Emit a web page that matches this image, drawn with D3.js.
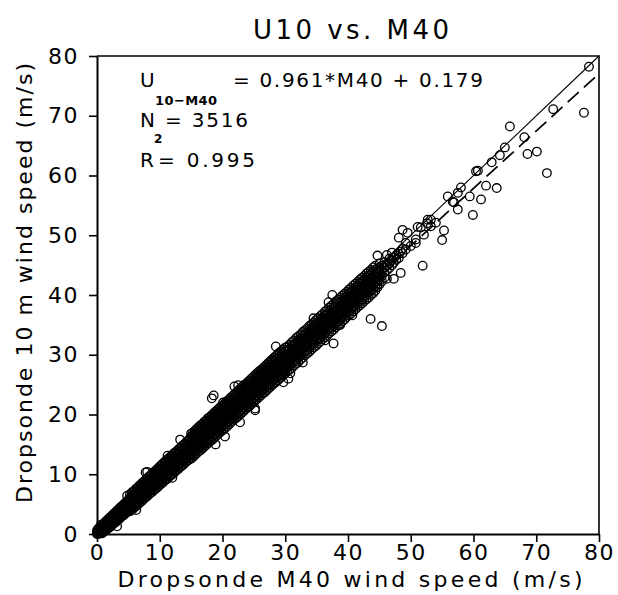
<!DOCTYPE html>
<html>
<head>
<meta charset="utf-8">
<script src="https://cdn.jsdelivr.net/npm/d3@7"></script>
<style>
  body { margin: 0; background: #fff; }
  svg text { font-family: "DejaVu Sans", sans-serif; fill: #000; }
</style>
</head>
<body>
<svg id="chart" width="618" height="595"></svg>
<script>
// rows are [M40, U10, U10, ...], column by column
const bandLow = [
  [0.0,0.0,0.3,0.6],[0.2,0.0,0.4,0.9],[0.4,0.1,0.5,1.0],[0.6,0.2,0.6,1.1,1.5],[0.8,0.1,0.5,0.9,1.4],
  [1.0,0.3,0.8,1.2,1.7],[1.2,0.5,0.9,1.4,1.9],[1.4,0.6,1.1,1.6,2.1],[1.6,0.8,1.3,1.8,2.3],
  [1.8,1.0,1.5,2.0,2.5],[2.0,1.1,1.7,2.2,2.7],[2.2,1.3,1.8,2.4,2.9],[2.4,1.5,2.0,2.5,3.1],
  [2.6,1.7,2.2,2.7,3.3],[2.8,1.9,2.4,2.9,3.5],[3.0,2.0,2.6,3.1,3.7],[3.2,1.3,2.2,2.8,3.3,3.9],
  [3.4,2.4,3.0,3.5,4.1],[3.6,2.6,3.2,3.7,4.3],[3.8,2.8,3.4,3.9,4.5],[4.0,3.0,3.5,4.1,4.7],
  [4.2,3.1,3.7,4.3,4.9],[4.4,3.3,3.9,4.5,5.1],[4.6,3.5,4.1,4.7,5.3],[4.8,3.7,4.3,4.9,5.5,6.4],
  [5.0,3.9,4.5,5.1,5.7]
];
const bandMid = [
  [5.25,3.8,4.3,4.9,5.4,6.0,6.6],[5.5,4.0,4.6,5.1,5.7,6.3,6.9],[5.75,4.2,4.8,5.4,5.9,6.5,7.1],
  [6.0,4.5,5.0,5.6,6.2,6.7,7.3],[6.25,4.0,4.7,5.3,5.9,6.4,7.0,7.6],[6.5,4.9,5.5,6.1,6.7,7.2,7.8],
  [6.75,5.2,5.7,6.3,6.9,7.5,8.1],[7.0,5.4,6.0,6.6,7.1,7.7,8.3],[7.25,5.6,6.2,6.8,7.4,8.0,8.6],
  [7.5,5.9,6.4,7.0,7.6,8.2,8.8],[7.75,6.1,6.7,7.3,7.9,8.5,9.1,10.3],[8.0,6.3,6.9,7.5,8.1,8.7,9.3,10.4],
  [8.25,6.6,7.2,7.8,8.4,9.0,9.6],[8.5,6.8,7.4,8.0,8.6,9.2,9.8],[8.75,7.0,7.6,8.2,8.8,9.4,10.1],
  [9.0,7.3,7.9,8.5,9.1,9.7,10.3],[9.25,7.5,8.1,8.7,9.3,9.9,10.5],[9.5,7.7,8.3,8.9,9.6,10.2,10.8],
  [9.75,7.9,8.6,9.2,9.8,10.4,11.0],[10.0,8.2,8.8,9.4,10.0,10.7,11.3],[10.25,8.4,9.0,9.6,10.3,10.9,11.5],
  [10.5,8.6,9.3,9.9,10.5,11.1,11.8],[10.75,8.9,9.5,10.1,10.8,11.4,12.0],[11.0,9.1,9.7,10.4,11.0,11.6,12.3],
  [11.25,9.3,10.0,10.6,11.2,11.9,12.5,13.1],[11.5,9.6,10.2,10.8,11.5,12.1,12.7],
  [11.75,9.8,10.4,11.1,11.7,12.3,13.0],[12.0,9.4,10.0,10.7,11.3,11.9,12.6,13.2],
  [12.25,10.2,10.9,11.5,12.2,12.8,13.5],[12.5,10.5,11.1,11.8,12.4,13.0,13.7],
  [12.75,10.7,11.4,12.0,12.6,13.3,13.9],[13.0,10.9,11.6,12.2,12.9,13.5,14.2],
  [13.25,11.2,11.8,12.5,13.1,13.8,14.4,15.8],[13.5,11.4,12.1,12.7,13.4,14.0,14.7],
  [13.75,11.6,12.3,12.9,13.6,14.2,14.9],[14.0,11.9,12.5,13.2,13.8,14.5,15.1],
  [14.25,12.1,12.7,13.4,14.1,14.7,15.4],[14.5,12.3,13.0,13.6,14.3,14.9,15.6],
  [14.75,12.6,13.2,13.9,14.5,15.2,15.9]
];
const bandUpper = [
  [15.0,12.6,13.2,13.8,14.4,15.0,15.6,16.3,16.8],[15.3,12.9,13.5,14.1,14.7,15.3,15.9,16.5,17.0],
  [15.6,13.2,13.8,14.4,15.0,15.6,16.2,16.8,17.3],[15.9,13.5,14.1,14.7,15.2,15.9,16.5,17.0,17.6],
  [16.2,13.8,14.3,14.9,15.6,16.2,16.8,17.4,17.9],[16.5,14.0,14.6,15.2,15.8,16.5,17.1,17.6,18.2],
  [16.8,14.3,14.9,15.5,16.1,16.8,17.4,17.9,18.4],[17.1,14.6,15.2,15.8,16.4,17.0,17.6,18.2,18.8],
  [17.4,14.9,15.5,16.1,16.7,17.3,17.9,18.5,19.0],[17.7,15.2,15.8,16.4,17.0,17.6,18.2,18.8,19.4],
  [18.0,15.5,16.0,16.7,17.3,17.9,18.5,19.1,19.6],[18.3,15.7,16.3,17.0,17.6,18.2,18.8,19.4,19.9,22.7],
  [18.6,16.0,16.6,17.2,17.9,18.5,19.1,19.7,20.2,23.2],[18.9,15.0,16.3,16.9,17.5,18.1,18.7,19.3,20.0,20.5],
  [19.2,16.6,17.2,17.8,18.4,19.0,19.6,20.2,20.8],[19.5,16.9,17.5,18.1,18.7,19.3,19.9,20.5,21.1],
  [19.8,17.2,17.8,18.4,19.0,19.6,20.2,20.8,21.4],[20.1,17.4,18.1,18.7,19.3,19.9,20.5,21.1,21.6,22.0],
  [20.4,16.3,17.7,18.4,19.0,19.6,20.2,20.8,21.4,21.9],[20.7,18.0,18.6,19.3,19.9,20.5,21.1,21.7,22.2],
  [21.0,18.3,18.9,19.5,20.2,20.8,21.4,22.0,22.5],[21.3,18.6,19.2,19.8,20.4,21.1,21.7,22.3,22.8],
  [21.6,18.9,19.5,20.1,20.7,21.3,22.0,22.6,23.1],[21.9,19.2,19.8,20.4,21.0,21.6,22.2,22.9,23.4,24.7],
  [22.2,19.4,20.1,20.7,21.3,21.9,22.5,23.1,23.7],[22.5,19.7,20.3,21.0,21.6,22.2,22.8,23.4,24.0,24.9],
  [22.8,18.7,20.0,20.6,21.3,21.9,22.5,23.1,23.7,24.3],[23.1,20.3,20.9,21.5,22.2,22.8,23.4,24.0,24.6],
  [23.4,20.6,21.2,21.8,22.4,23.1,23.7,24.3,24.9],[23.7,20.9,21.5,22.1,22.7,23.4,24.0,24.6,25.1],
  [24.0,21.2,21.8,22.4,23.0,23.6,24.3,24.9,25.4],[24.3,21.4,22.1,22.7,23.3,23.9,24.6,25.2,25.7],
  [24.6,21.7,22.4,23.0,23.6,24.2,24.8,25.4,26.0],[24.9,22.0,22.7,23.3,23.9,24.5,25.1,25.7,26.3],
  [25.2,20.7,21.0,22.3,22.9,23.6,24.2,24.8,25.4,26.0,26.6],[25.5,22.6,23.2,23.8,24.5,25.1,25.7,26.3,26.9],
  [25.8,22.9,23.5,24.1,24.7,25.4,26.0,26.6,27.2],[26.1,23.2,23.8,24.4,25.0,25.6,26.3,26.9,27.4],
  [26.4,23.5,24.1,24.7,25.3,25.9,26.5,27.2,27.7],[26.7,23.7,24.4,25.0,25.6,26.2,26.8,27.4,28.0],
  [27.0,24.0,24.7,25.3,25.9,26.5,27.1,27.7,28.3],[27.3,24.3,24.9,25.6,26.2,26.8,27.4,28.0,28.6],
  [27.6,24.6,25.2,25.8,26.5,27.1,27.7,28.3,28.9],[27.9,24.9,25.5,26.1,26.7,27.4,28.0,28.6,29.2],
  [28.2,25.2,25.8,26.4,27.0,27.6,28.3,28.9,29.5],[28.5,25.4,26.1,26.7,27.3,27.9,28.5,29.2,29.8,31.4],
  [28.8,25.7,26.4,27.0,27.6,28.2,28.8,29.4,30.1],[29.1,26.0,26.6,27.3,27.9,28.5,29.1,29.7,30.4],
  [29.4,26.3,26.9,27.5,28.2,28.8,29.4,30.0,30.6],[29.7,25.4,26.6,27.2,27.8,28.4,29.1,29.7,30.3,30.9],
  [30.0,26.9,27.5,28.1,28.7,29.3,29.9,30.6,31.2]
];
const bandTop = [
  [30.35,27.2,27.9,28.6,29.3,30.0,30.7,31.4],[30.5,26.0],[30.8,26.9],
  [30.7,27.5,28.2,28.9,29.6,30.3,31.0,31.7],[31.05,27.8,28.6,29.3,30.0,30.7,31.4,32.1],
  [31.4,28.2,28.9,29.6,30.3,31.0,31.7,32.4],[31.75,28.5,29.2,29.9,30.6,31.3,32.0,32.8],
  [32.1,28.8,29.6,30.3,31.0,31.7,32.4,33.1],[32.45,29.2,29.9,30.6,31.3,32.0,32.7,33.4],
  [32.8,28.7,29.5,30.2,30.9,31.6,32.4,33.1,33.8],[33.15,29.9,30.6,31.3,32.0,32.7,33.4,34.1],
  [33.5,30.2,30.8,31.6,32.3,33.0,33.7,34.4],[33.85,30.5,31.3,32.0,32.7,33.4,34.1,34.8],
  [34.2,30.9,31.6,32.3,33.0,33.7,34.4,35.1],[34.5,36.1],[34.55,31.2,31.9,32.6,33.3,34.0,34.7,35.4],
  [34.9,31.5,32.3,33.0,33.7,34.4,35.1,35.8],[35.25,31.9,32.6,33.3,34.0,34.7,35.4,36.1],
  [35.6,32.2,32.9,33.7,34.4,35.1,35.8,36.5],[35.95,32.6,33.3,34.0,34.7,35.4,36.1,36.8],
  [36.3,32.4,32.9,33.6,34.3,35.0,35.8,36.5,37.2],[36.65,33.2,34.0,34.7,35.4,36.1,36.8,37.5],
  [36.9,38.8],[37.0,33.6,34.3,35.0,35.7,36.4,37.1,37.9],[37.35,33.9,34.6,35.3,36.0,36.8,37.5,38.2],
  [37.5,40.0],[37.7,31.9,34.2,35.0,35.7,36.4,37.1,37.8,38.5],[38.05,34.6,35.3,36.0,36.7,37.4,38.1,38.9],
  [38.4,34.9,35.6,36.3,37.0,37.8,38.5,39.2],[38.75,35.0,35.2,36.0,36.7,37.4,38.1,38.8,39.5],
  [39.1,35.6,36.3,37.0,37.7,38.4,39.1,39.9],[39.45,35.9,36.7,37.4,38.1,38.8,39.5,40.2],
  [39.8,36.3,37.0,37.7,38.4,39.1,39.8,40.5],[40.15,36.6,37.3,38.0,38.7,39.5,40.2,40.9],
  [40.5,36.9,37.7,38.4,39.1,39.8,40.5,41.2],[40.7,36.6],[40.85,37.3,38.0,38.7,39.4,40.1,40.8,41.6],
  [41.2,37.6,38.3,39.0,39.8,40.5,41.2,41.9],[41.55,38.0,38.7,39.4,40.1,40.8,41.5,42.2],
  [41.9,38.3,39.0,39.7,40.4,41.1,41.9,42.6],[42.25,38.6,39.3,40.1,40.8,41.5,42.2,42.9],
  [42.6,39.0,39.7,40.4,41.1,41.8,42.5,43.2],[42.95,39.3,40.0,40.7,41.5,42.2,42.9,43.6],
  [43.3,39.6,40.4,41.1,41.8,42.5,43.2,43.9],[43.6,36.0],[43.65,40.0,40.7,41.4,42.1,42.8,43.5,44.2],
  [44.0,40.3,41.0,41.7,42.5,43.2,43.9,44.6],[44.35,40.7,41.4,42.1,42.8,43.5,44.2,44.9],
  [44.7,41.3,41.7,42.4,43.1,43.8,44.5,46.6],[45.05,41.8,42.5,43.2,43.9,44.6,45.3]
];
const sparse = [
  [45.4,34.8,42.3,43.2,44.0,44.9],[45.8,42.9,43.8,44.6,45.5],[46.2,42.7,44.1,44.9,46.7],
  [46.6,44.5,45.3,46.1],[47.0,45.0,45.8,47.1],[47.3,42.7,45.4,46.2],[47.7,45.9,46.6],
  [48.1,46.2,46.9,49.6],[48.4,43.7,47.3],[48.7,47.0,47.8,50.9],[49.2,47.6,48.7],
  [49.5,50.4],[50.0,48.2],[50.8,48.7,49.3],[51.1,51.4],[51.6,51.3],[51.9,44.9],[52.1,50.1],
  [52.6,52.0],[52.7,52.6],[53.2,51.5,52.6],[54.0,52.1],[55.0,49.2],[55.3,50.8],[55.9,56.5],
  [56.7,55.6],[56.9,55.5],[57.5,54.3,57.1],[58.0,58.0],[59.4,56.5],[59.9,53.4],[60.4,60.7],
  [60.7,60.8],[61.2,56.0],[62.0,58.3],[62.9,62.2],[63.7,57.9],[64.2,63.4],[65.0,64.7],
  [65.8,68.2],[68.1,66.4],[68.6,63.6],[70.1,64.0],[71.7,60.4],[72.7,71.1],[77.6,70.5],[78.4,78.2]
];

const ticks  = [0, 10, 20, 30, 40, 50, 60, 70, 80];
const fitSlope = 0.961, fitIntercept = 0.179;
const nObs = 3516, r2 = 0.995;

// flatten the columns into [x, y] points
const points = [];
[bandLow, bandMid, bandUpper, bandTop, sparse].forEach(rows =>
  rows.forEach(r => r.slice(1).forEach(v => points.push([r[0], v]))));

const svg = d3.select('#chart');
const x = d3.scaleLinear().domain([0, 80]).range([97, 599]);
const y = d3.scaleLinear().domain([0, 80]).range([534, 56]);

// points
svg.append('g').selectAll('circle')
  .data(points)
  .enter().append('circle')
  .attr('cx', d => x(d[0]))
  .attr('cy', d => y(d[1]))
  .attr('r', 4.3)
  .attr('fill', 'none')
  .attr('stroke', '#000')
  .attr('stroke-width', 1.3);

// 1:1 line and regression line
svg.append('line')
  .attr('x1', x(0)).attr('y1', y(0)).attr('x2', x(80)).attr('y2', y(80))
  .attr('stroke', '#000').attr('stroke-width', 1.1);
svg.append('line')
  .attr('x1', x(0)).attr('y1', y(fitIntercept))
  .attr('x2', x(80)).attr('y2', y(fitSlope * 80 + fitIntercept))
  .attr('stroke', '#000').attr('stroke-width', 1.7)
  .attr('stroke-dasharray', '15,7');

// frame top / right
svg.append('path')
  .attr('d', `M${x(0)},${y(80)}H${x(80)}V${y(0)}`)
  .attr('fill', 'none').attr('stroke', '#000').attr('stroke-width', 1.6);

// axes
const xAxis = svg.append('g')
  .attr('transform', `translate(0,${y(0)})`)
  .call(d3.axisBottom(x).tickValues(ticks).tickSize(8).tickPadding(2).tickSizeOuter(0));
const yAxis = svg.append('g')
  .attr('transform', `translate(${x(0)},0)`)
  .call(d3.axisLeft(y).tickValues(ticks).tickSize(8).tickPadding(10).tickSizeOuter(0));
[xAxis, yAxis].forEach(g => {
  g.select('.domain').attr('stroke-width', 2);
  g.selectAll('.tick line').attr('stroke-width', 1.6);
  g.selectAll('.tick text').style('font-size', '22px').attr('fill', '#000')
    .style('letter-spacing', '1.5px');
});

// titles
svg.append('text')
  .attr('x', 351).attr('y', 39).attr('text-anchor', 'middle')
  .attr('textLength', 196).attr('lengthAdjust', 'spacing')
  .style('font-size', '26px')
  .text('U10 vs. M40');
svg.append('text')
  .attr('x', 350).attr('y', 587).attr('text-anchor', 'middle')
  .attr('textLength', 465).attr('lengthAdjust', 'spacing')
  .style('font-size', '22px')
  .text('Dropsonde M40 wind speed (m/s)');
svg.append('text')
  .attr('transform', 'translate(32,283) rotate(-90)')
  .attr('text-anchor', 'middle')
  .attr('textLength', 440).attr('lengthAdjust', 'spacing')
  .style('font-size', '22px')
  .text('Dropsonde 10 m wind speed (m/s)');

// fit annotation
const note = svg.append('g').style('font-size', '20px');
note.append('text').attr('x', 140).attr('y', 87).text('U');
note.append('text').attr('x', 155).attr('y', 105).style('font-size', '13px')
  .style('font-weight', 'bold').attr('textLength', 62).attr('lengthAdjust', 'spacing')
  .text('10\u2212M40');
note.append('text').attr('x', 233).attr('y', 87)
  .attr('textLength', 250).attr('lengthAdjust', 'spacing')
  .text(`= ${fitSlope}*M40 + ${fitIntercept}`);
note.append('text').attr('x', 140).attr('y', 127)
  .attr('textLength', 108).attr('lengthAdjust', 'spacing')
  .text(`N = ${nObs}`);
note.append('text').attr('x', 140).attr('y', 167).text('R');
note.append('text').attr('x', 154).attr('y', 143).style('font-size', '12px')
  .style('font-weight', 'bold').text('2');
note.append('text').attr('x', 158).attr('y', 167)
  .attr('textLength', 97).attr('lengthAdjust', 'spacing')
  .text(`= ${r2}`);
</script>
</body>
</html>
